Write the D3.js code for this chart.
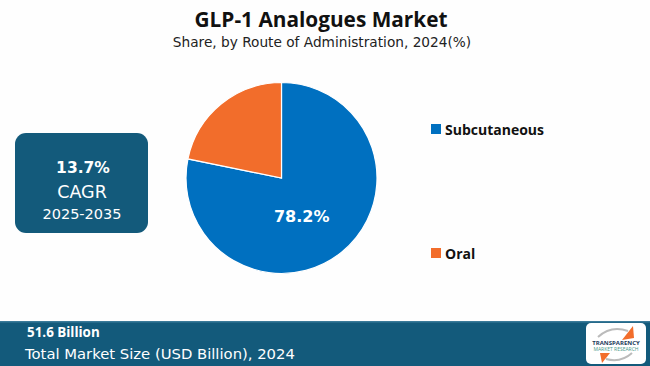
<!DOCTYPE html>
<html><head><meta charset="utf-8">
<script src="https://cdn.jsdelivr.net/npm/d3@7"></script>
<style>body{margin:0;background:#fefefe;}svg{display:block;}</style>
</head><body>
<script>
const categories = ["Subcutaneous", "Oral"];
const values = [78.2, 21.8];
const colors = ["#0070c0", "#f26d2b"];
const title = "GLP-1 Analogues Market";
const subtitle = "Share, by Route of Administration, 2024(%)";
const cagr = ["13.7%", "CAGR", "2025-2035"];
const totalValue = "51.6 Billion";
const totalLabel = "Total Market Size (USD Billion), 2024";

const W = 650, H = 366;
const svg = d3.select("body").append("svg").attr("width", W).attr("height", H);
svg.append("rect").attr("width", W).attr("height", H).attr("fill", "#fefefe");

const sans = "'Open Sans', 'Noto Sans', sans-serif";
const gothic = "'DejaVu Sans', sans-serif";

svg.append("text").attr("x", 321).attr("y", 27).attr("text-anchor", "middle")
  .attr("font-family", sans).attr("font-weight", 700).attr("font-size", 20.8).attr("fill", "#111").text(title);
svg.append("text").attr("x", 322).attr("y", 47).attr("text-anchor", "middle")
  .attr("font-family", gothic).attr("font-size", 13.7).attr("fill", "#222").text(subtitle);

// pie
const cx = 281.5, cy = 178, r = 95.5;
const pie = d3.pie().sort(null).value(d => d)(values);
const arc = d3.arc().innerRadius(0).outerRadius(r);
const g = svg.append("g").attr("transform", `translate(${cx},${cy})`);
g.selectAll("path").data(pie).join("path").attr("d", arc)
  .attr("fill", (d, i) => colors[i]).attr("stroke", "#fff").attr("stroke-width", 1.2);
const c0 = d3.arc().innerRadius(0).outerRadius(r).centroid(pie[0]);
g.append("text").attr("x", c0[0] - 10).attr("y", c0[1] + 1).attr("text-anchor", "middle").attr("dy", "0.35em")
  .attr("font-family", gothic).attr("font-weight", 700).attr("font-size", 16).attr("fill", "#fff")
  .text(values[0].toFixed(1) + "%");

// legend
const ly = [129, 253];
categories.forEach((c, i) => {
  svg.append("rect").attr("x", 431).attr("y", ly[i] - 5).attr("width", 10).attr("height", 10).attr("fill", colors[i]);
  svg.append("text").attr("x", 445).attr("y", ly[i] + 5.5).attr("font-family", sans).attr("font-weight", 700)
    .attr("font-size", 14).attr("fill", "#111").text(c);
});

// CAGR box
svg.append("rect").attr("x", 15).attr("y", 133).attr("width", 133).attr("height", 100).attr("rx", 11)
  .attr("fill", "#135a7b");
svg.append("text").attr("x", 83).attr("y", 173).attr("text-anchor", "middle").attr("font-family", gothic)
  .attr("font-weight", 700).attr("font-size", 15.5).attr("fill", "#fff").text(cagr[0]);
svg.append("text").attr("x", 82).attr("y", 198).attr("text-anchor", "middle").attr("font-family", gothic)
  .attr("font-size", 17.5).attr("fill", "#fff").text(cagr[1]);
svg.append("text").attr("x", 82).attr("y", 219).attr("text-anchor", "middle").attr("font-family", gothic)
  .attr("font-size", 14.5).attr("fill", "#fff").text(cagr[2]);

// footer
svg.append("rect").attr("x", 0).attr("y", 321).attr("width", W).attr("height", 45).attr("fill", "#135a7b");
svg.append("rect").attr("x", 0).attr("y", 321).attr("width", W).attr("height", 1.5).attr("fill", "#3a7a99");
svg.append("text").attr("x", 27).attr("y", 337).attr("font-family", sans).attr("font-weight", 700)
  .attr("font-size", 13.4).attr("fill", "#fff").text(totalValue);
svg.append("text").attr("x", 25).attr("y", 359).attr("font-family", gothic)
  .attr("font-size", 14.8).attr("fill", "#fff").text(totalLabel);

// logo
const lg = svg.append("g").attr("transform", "translate(586,323)");
lg.append("rect").attr("width", 60).attr("height", 41).attr("rx", 5).attr("fill", "#fff");
lg.append("path").attr("d", "M12,14 Q25,2 42,8").attr("fill", "none").attr("stroke", "#bbb").attr("stroke-width", 2);
lg.append("path").attr("d", "M36,17 L47,3 L48,15 Z").attr("fill", "#f26d2b");
lg.append("path").attr("d", "M24,30 L16,40 L14,30 Z").attr("fill", "#f26d2b");
lg.append("path").attr("d", "M46,30 Q35,40 20,36").attr("fill", "none").attr("stroke", "#bbb").attr("stroke-width", 2);
lg.append("text").attr("x", 30).attr("y", 22).attr("text-anchor", "middle").attr("font-family", sans)
  .attr("font-weight", 700).attr("font-size", 6).attr("fill", "#1b3a5a").text("TRANSPARENCY");
lg.append("text").attr("x", 30).attr("y", 28).attr("text-anchor", "middle").attr("font-family", sans)
  .attr("font-size", 5).attr("fill", "#4a9a8a").text("MARKET RESEARCH");
</script>
</body></html>
